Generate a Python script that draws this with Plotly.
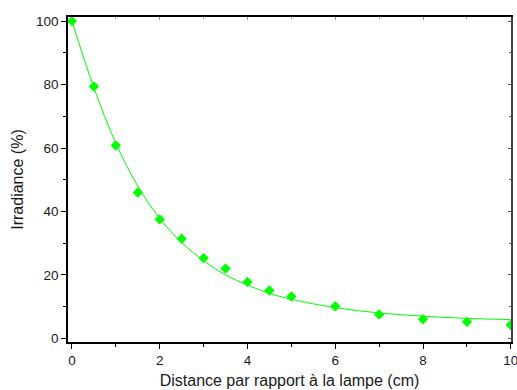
import plotly.graph_objects as go

# Measured points
distance = [0, 0.5, 1, 1.5, 2, 2.5, 3, 3.5, 4, 4.5, 5, 6, 7, 8, 9, 10]
irradiance = [100, 79.4, 60.8, 46.0, 37.5, 31.4, 25.3, 22.0, 17.8, 15.1, 13.2, 10.1, 7.5, 6.0, 5.2, 4.2]

# Fitted curve
fit_x = [0, 0.5, 1, 1.5, 2, 2.5, 3, 3.5, 4, 4.5, 5, 6, 7, 8, 9, 10]
fit_y = [100, 79.0, 61.5, 48.0, 37.8, 30.2, 24.5, 20.0, 16.8, 14.2, 12.3, 9.7, 8.0, 7.0, 6.3, 5.9]

x_title = "Distance par rapport à la lampe (cm)"
y_title = "Irradiance (%)"

GREEN = "#00ff00"
FONT = "Liberation Sans, Arial, sans-serif"

fig = go.Figure()
fig.add_trace(go.Scatter(x=fit_x, y=fit_y, mode="lines", line=dict(color=GREEN, width=1, shape="spline"),
                         showlegend=False, hoverinfo="skip"))
fig.add_trace(go.Scatter(x=distance, y=irradiance, mode="markers",
                         marker=dict(symbol="diamond", size=8, color=GREEN, line=dict(width=0)),
                         showlegend=False))

xr = [-0.09, 10.005]
yr = [-1.15, 101.3]

fig.update_layout(
    width=517, height=390,
    margin=dict(l=68, r=6, t=17, b=48, autoexpand=False),
    paper_bgcolor="white", plot_bgcolor="white",
    font=dict(family=FONT, size=13.5, color="#1a1a1a"),
    xaxis=dict(range=xr, showgrid=False, zeroline=False, automargin=False,
               tickmode="array", tickvals=[0, 2, 4, 6, 8, 10], ticktext=["0", "2", "4", "6", "8", "10"],
               ticklabeloverflow="allow",
               ticks="outside", ticklen=5, tickwidth=1, tickcolor="black",
               minor=dict(tickvals=[1, 3, 5, 7, 9], ticks="outside", ticklen=3, tickcolor="black"),
               showline=True, linecolor="black", linewidth=1.5,
               title=dict(text=x_title, font=dict(size=16, family=FONT), standoff=8)),
    yaxis=dict(range=yr, showgrid=False, zeroline=False, automargin=False,
               tickmode="array", tickvals=[0, 20, 40, 60, 80, 100],
               ticks="outside", ticklen=5, tickwidth=1, tickcolor="black",
               minor=dict(tickvals=[10, 30, 50, 70, 90], ticks="outside", ticklen=3, tickcolor="black"),
               showline=True, linecolor="black", linewidth=1.5,
               title=dict(text=y_title, font=dict(size=16, family=FONT), standoff=8)),
    xaxis2=dict(range=xr, overlaying="x", side="top", showgrid=False, zeroline=False, automargin=False,
                tickmode="array", tickvals=[0, 2, 4, 6, 8, 10], showticklabels=False,
                ticks="inside", ticklen=3, tickcolor="#999999",
                minor=dict(tickvals=[1, 3, 5, 7, 9], ticks="inside", ticklen=2, tickcolor="#999999"),
                showline=True, linecolor="black", linewidth=1.5),
    yaxis2=dict(range=yr, overlaying="y", side="right", showgrid=False, zeroline=False, automargin=False,
                tickmode="array", tickvals=[0, 20, 40, 60, 80, 100], showticklabels=False,
                ticks="inside", ticklen=3, tickcolor="#555555",
                minor=dict(tickvals=[10, 30, 50, 70, 90], ticks="inside", ticklen=2, tickcolor="#555555"),
                showline=True, linecolor="#444444", linewidth=2),
)
# invisible trace to activate the mirror axes
fig.add_trace(go.Scatter(x=[None], y=[None], xaxis="x2", yaxis="y2", showlegend=False, hoverinfo="skip"))

fig.write_html("out.html", config={"displayModeBar": False},
               post_script="document.body.style.margin='0';document.body.style.overflow='hidden';")
